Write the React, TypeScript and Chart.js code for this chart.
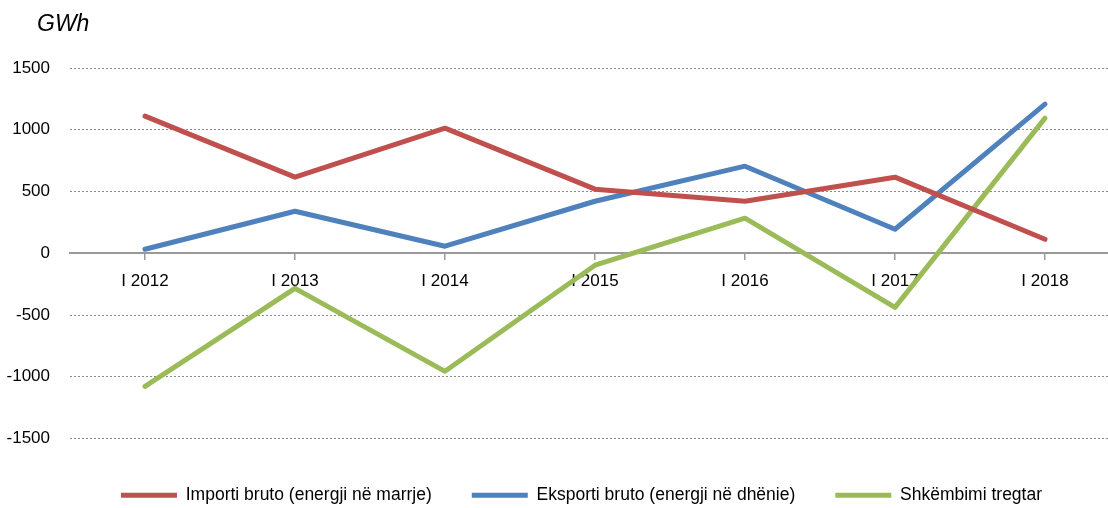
import React, { useEffect, useRef } from "react";
import { Chart, registerables } from "chart.js";

Chart.register(...registerables);

const categories = ["I 2012", "I 2013", "I 2014", "I 2015", "I 2016", "I 2017", "I 2018"];
const importValues = [1110, 616, 1013, 519, 421, 616, 113];
const exportValues = [32, 340, 57, 421, 705, 194, 1207];
const netValues = [-1078, -284, -956, -97, 284, -438, 1094];
const seriesLabels = [
  "Importi bruto (energji në marrje)",
  "Eksporti bruto (energji në dhënie)",
  "Shkëmbimi tregtar",
];
const seriesColors = ["#C0504D", "#4F81BD", "#9BBB59"];
const yMin = -1500;
const yMax = 1500;
const yStep = 500;
const unitLabel = "GWh";

const FONT = "'Liberation Sans', Arial, sans-serif";

const unitPlugin = {
  id: "unitLabel",
  afterDraw(chart: any) {
    const ctx = chart.ctx;
    ctx.save();
    ctx.font = "italic 23px 'Liberation Sans', Arial, sans-serif";
    ctx.fillStyle = "#000";
    ctx.textAlign = "left";
    ctx.textBaseline = "middle";
    ctx.fillText(unitLabel, 37, 25);
    ctx.restore();
  },
};

export default function App() {
  const ref = useRef<HTMLCanvasElement | null>(null);

  useEffect(() => {
    if (!ref.current) return;
    const values = [importValues, exportValues, netValues];
    const chart = new Chart(ref.current, {
      type: "line",
      data: {
        labels: categories,
        datasets: values.map((v, i) => ({
          label: seriesLabels[i],
          data: v,
          xAxisID: "x",
          yAxisID: "y",
          borderColor: seriesColors[i],
          backgroundColor: seriesColors[i],
          borderWidth: 5,
          pointRadius: 0,
          pointHoverRadius: 0,
          tension: 0,
          borderCapStyle: "round",
          borderJoinStyle: "round",
          fill: false,
        })),
      },
      options: {
        responsive: false,
        animation: false,
        layout: { padding: { top: 68, left: 0, right: 0, bottom: 0 } },
        plugins: {
          title: { display: false },
          tooltip: { enabled: false },
          legend: {
            position: "bottom",
            align: "center",
            labels: {
              font: { family: FONT, size: 17.5 },
              color: "#000",
              boxWidth: 56,
              boxHeight: 5,
              padding: 40,
              generateLabels: (c: any) =>
                c.data.datasets.map((ds: any, i: number) => ({
                  text: ds.label,
                  fillStyle: ds.borderColor,
                  strokeStyle: ds.borderColor,
                  lineWidth: 0,
                  hidden: false,
                  datasetIndex: i,
                  fontColor: "#000",
                })),
            },
          },
        },
        scales: {
          x: {
            type: "category",
            position: { y: 0 } as any,
            offset: true,
            grid: {
              drawOnChartArea: false,
              offset: false,
              drawTicks: true,
              tickLength: 6,
              color: "#999",
              lineWidth: 1.5,
            },
            border: { display: true, color: "#999", width: 2 },
            ticks: {
              font: { family: FONT, size: 17 },
              color: "#000",
              padding: 12,
              maxRotation: 0,
              autoSkip: false,
            },
          },
          x2: {
            type: "category",
            position: "bottom",
            grid: { display: false },
            border: { display: false },
            ticks: { display: false },
            afterFit: (s: any) => {
              s.height = 8;
            },
          },
          y: {
            min: yMin,
            max: yMax,
            position: "left",
            afterFit: (s: any) => {
              s.width = 70;
            },
            ticks: {
              stepSize: yStep,
              font: { family: FONT, size: 17 },
              color: "#000",
              padding: 20,
              callback: (v: any) => String(v),
            },
            grid: {
              drawTicks: false,
              color: (ctx: any) => (ctx.tick && ctx.tick.value === 0 ? "rgba(0,0,0,0)" : "#8a8a8a"),
              lineWidth: 1,
            },
            border: { display: false, dash: [2, 2] },
          },
          y2: {
            type: "linear",
            position: "right",
            grid: { display: false },
            border: { display: false },
            ticks: { display: false },
            afterFit: (s: any) => {
              s.width = 43;
            },
          },
        },
      },
      plugins: [unitPlugin],
    } as any);
    return () => chart.destroy();
  }, []);

  return (
    <div
      style={{
        position: "fixed",
        left: 0,
        top: 0,
        width: "1108px",
        height: "508px",
        overflow: "hidden",
        background: "#fff",
      }}
    >
      <canvas ref={ref} width={1163} height={514} style={{ display: "block" }} />
    </div>
  );
}
